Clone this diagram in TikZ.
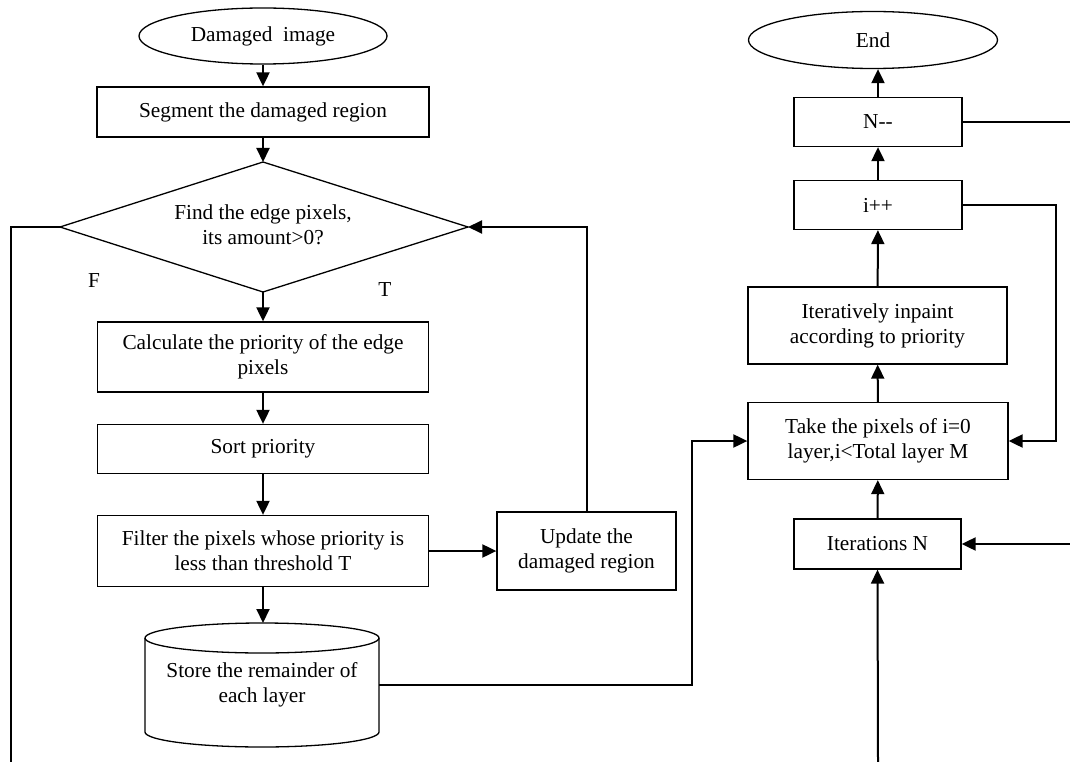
\documentclass[tikz,border=0pt]{standalone}
\usepackage{fontspec}
\setmainfont{Liberation Serif}
\usetikzlibrary{shapes.geometric,arrows.meta}
\begin{document}
\begin{tikzpicture}[x=1pt,y=-1pt,
  every node/.style={font=\fontsize{21.3}{25}\selectfont, align=center, inner sep=0pt},
  procbox/.style={draw, line width=1.3pt, rectangle},
  termin/.style={draw, line width=1.3pt, ellipse},
  conn/.style={line width=2pt, -{Triangle[length=14pt,width=13pt]}},
  plain/.style={line width=2pt},
  lbl/.style={font=\fontsize{21.3}{25}\selectfont}]
\useasboundingbox (0,0) rectangle (1070,762);
% left column
\node[termin, minimum width=248pt, minimum height=56pt] (start) at (263,36) {Damaged~ image};
\node[procbox, minimum width=332pt, minimum height=50pt] (seg) at (263,112) {Segment the damaged region};
\coordinate (dtop) at (263,162);
\coordinate (dleft) at (60,227);
\coordinate (dright) at (468,227);
\coordinate (dbot) at (263,292);
\draw[line width=1.3pt] (dtop) -- (dright) -- (dbot) -- (dleft) -- cycle;
\node (dtext) at (263,225) {Find the edge pixels,\\its amount>0?};
\node[lbl] (flabel) at (94,281) {F};
\node[lbl] (tlabel) at (385,290) {T};
\node[procbox, minimum width=331pt, minimum height=70pt] (calc) at (263,357) {Calculate the priority of the edge\\pixels};
\node[procbox, minimum width=331pt, minimum height=49pt] (sort) at (263,449) {Sort priority};
\node[procbox, minimum width=331pt, minimum height=71pt] (filter) at (263,551) {Filter the pixels whose priority is\\less than threshold T};
\node[procbox, minimum width=179pt, minimum height=78pt] (update) at (586.5,551) {Update the\\damaged region};
% cylinder
\draw[line width=1.3pt, fill=white] (145,638) -- (145,732) arc[start angle=180, end angle=0, x radius=117, y radius=15] -- (379,638);
\draw[line width=1.3pt] (262,638) ellipse[x radius=117, y radius=15];
\node[minimum width=234pt, minimum height=94pt] (cyl) at (262,685) {Store the remainder of\\each layer};
\coordinate (cyltop) at (263,623);
% right column
\node[termin, minimum width=249pt, minimum height=57pt] (endn) at (873,40) {End};
\node[procbox, minimum width=168pt, minimum height=49pt] (ndec) at (878,122) {N-{}-};
\node[procbox, minimum width=168pt, minimum height=49pt] (iinc) at (878,205) {i++};
\node[procbox, minimum width=259pt, minimum height=77pt] (inpaint) at (877.5,325.5) {Iteratively inpaint\\according to priority};
\node[procbox, minimum width=260pt, minimum height=77pt] (take) at (878,441) {Take the pixels of i=0\\layer,i<Total layer M};
\node[procbox, minimum width=167pt, minimum height=50pt] (itern) at (877.5,544) {Iterations N};
% free ends
\coordinate (fbot) at (11,762);
\coordinate (fcorner) at (11,227);
\coordinate (nright) at (1070,122);
\coordinate (iright) at (1070,544);
\coordinate (ibot) at (878,762);
% connectors
\draw[conn] (start) -- (seg);
\draw[conn] (seg) -- (dtop);
\draw[conn] (dbot) -- (calc);
\draw[conn] (calc) -- (sort);
\draw[conn] (sort) -- (filter);
\draw[conn] (filter) -- (cyltop);
\draw[conn] (filter.east) -- (update.west);
\draw[conn] (update.north) |- (dright);
\draw[plain] (dleft) -- (fcorner) -- (fbot);
\draw[conn] (cyl.east) -| (692,441) -- (take.west);
\draw[conn] (itern) -- (take);
\draw[conn] (take) -- (inpaint);
\draw[conn] (inpaint) -- (iinc);
\draw[conn] (iinc) -- (ndec);
\draw[conn] (ndec.north) -- (ndec.north |- endn.south);
\draw[conn] (iinc.east) -| (1056,441) -- (take.east);
\draw[plain] (ndec.east) -- (nright);
\draw[conn] (iright) -- (itern.east);
\draw[conn] (ibot) -- (itern.south);
\end{tikzpicture}
\end{document}
